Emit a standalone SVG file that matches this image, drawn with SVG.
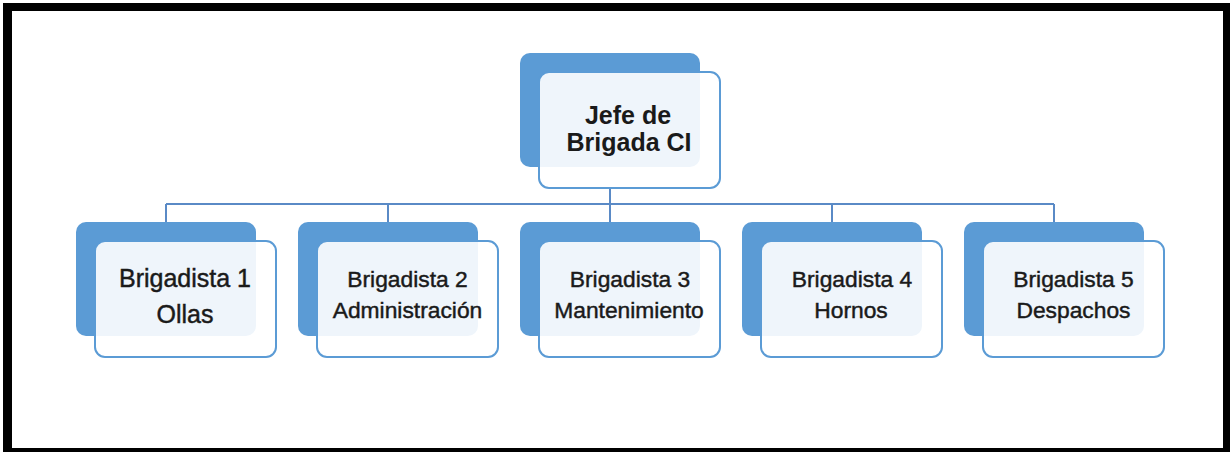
<svg xmlns="http://www.w3.org/2000/svg" width="1230" height="452" viewBox="0 0 1230 452">
<style>
.back{fill:#5b9bd5;}
.front{fill:#ffffff;fill-opacity:0.9;stroke:#5b9bd5;stroke-width:2;}
.t{font-family:"Liberation Sans",Arial,sans-serif;fill:#1a1a1a;text-anchor:middle;stroke:#1a1a1a;stroke-width:0.45;}
.tb{font-family:"Liberation Sans",Arial,sans-serif;fill:#1a1a1a;text-anchor:middle;font-weight:bold;font-size:25px;}
.c{stroke:#5a8ac6;stroke-width:2;fill:none;}
</style>
<rect x="0" y="0" width="1230" height="452" fill="#ffffff"/>
<path d="M3 3H1230V452H3Z M12 11V448H1223V11Z" fill="#000000" fill-rule="evenodd"/>
<g id="connectors">
<path class="c" d="M610 188V204 M166 204H1054 M166 204V222 M388 204V222 M610 204V222 M832 204V222 M1054 204V222"/>
</g>
<g id="jefe">
<rect class="back" x="520" y="53" width="180" height="114" rx="10"/>
<rect class="front" x="539" y="72" width="181" height="116" rx="10"/>
<text class="tb" x="628" y="124">Jefe de</text>
<text class="tb" x="629" y="151">Brigada CI</text>
</g>
<g id="b1">
<rect class="back" x="76" y="222" width="180" height="114" rx="10"/>
<rect class="front" x="95" y="241" width="181" height="116" rx="10"/>
<text class="t" x="185" y="287" font-size="25">Brigadista 1</text>
<text class="t" x="185" y="323" font-size="25">Ollas</text>
</g>
<g id="b2">
<rect class="back" x="298" y="222" width="180" height="114" rx="10"/>
<rect class="front" x="317" y="241" width="181" height="116" rx="10"/>
<text class="t" x="407.5" y="287" font-size="22.8">Brigadista 2</text>
<text class="t" x="407.5" y="318" font-size="22.8">Administración</text>
</g>
<g id="b3">
<rect class="back" x="520" y="222" width="180" height="114" rx="10"/>
<rect class="front" x="539" y="241" width="181" height="116" rx="10"/>
<text class="t" x="630" y="287" font-size="22.8">Brigadista 3</text>
<text class="t" x="629" y="318" font-size="22.8">Mantenimiento</text>
</g>
<g id="b4">
<rect class="back" x="742" y="222" width="180" height="114" rx="10"/>
<rect class="front" x="761" y="241" width="181" height="116" rx="10"/>
<text class="t" x="852" y="287" font-size="22.8">Brigadista 4</text>
<text class="t" x="851" y="318" font-size="22.8">Hornos</text>
</g>
<g id="b5">
<rect class="back" x="964" y="222" width="180" height="114" rx="10"/>
<rect class="front" x="983" y="241" width="181" height="116" rx="10"/>
<text class="t" x="1073.5" y="287" font-size="22.8">Brigadista 5</text>
<text class="t" x="1073.5" y="318" font-size="22.8">Despachos</text>
</g>
</svg>
